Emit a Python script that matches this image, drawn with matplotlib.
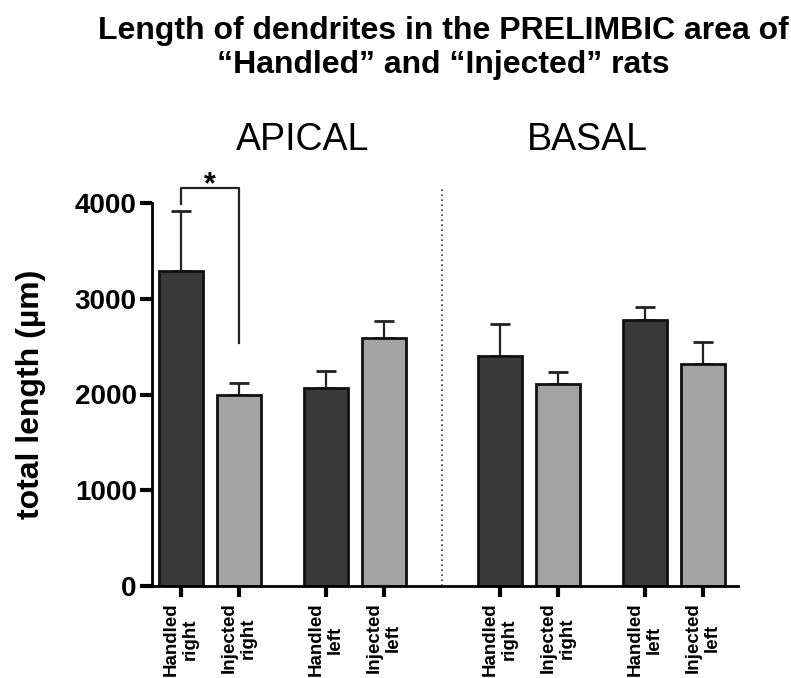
import numpy as np
import matplotlib
matplotlib.use("Agg")
import matplotlib.pyplot as plt

plt.rcParams['font.family'] = ['Liberation Sans', 'DejaVu Sans']

labels = ["Handled\nright", "Injected\nright", "Handled\nleft", "Injected\nleft",
          "Handled\nright", "Injected\nright", "Handled\nleft", "Injected\nleft"]
means = [3290, 2000, 2068, 2590, 2402, 2110, 2778, 2318]
sem = [626, 120, 177, 178, 334, 125, 136, 230]
groups = ["APICAL", "BASAL"]
pos = np.array([0, 1, 2.5, 3.5, 5.5, 6.5, 8, 9])
dark = "#3a3a3a"
light = "#a3a3a3"
colors = [dark, light] * 4

W, H = 791, 678
fig = plt.figure(figsize=(W / 100, H / 100), dpi=100)
ax = fig.add_axes([152 / W, 92 / H, 586 / W, 383 / H])

ax.bar(pos, means, width=0.76, color=colors, edgecolor="#111111", linewidth=2, zorder=2)
ax.errorbar(pos, means, yerr=[np.zeros(len(sem)), sem], fmt="none", ecolor="#222222",
            elinewidth=1.6, capsize=7.5, capthick=2, zorder=1)

ax.set_xlim(-0.5, 9.6)
ax.set_ylim(0, 4000)
ax.set_yticks([0, 1000, 2000, 3000, 4000])
ax.set_xticks(pos)
ax.set_xticklabels(labels, rotation=90, fontsize=13.5, fontweight="bold",
                   va="top", ha="center", multialignment="center", linespacing=1.15)
for t in ax.get_yticklabels():
    t.set_fontsize(20)
    t.set_fontweight("bold")
ax.tick_params(axis="y", length=9, width=3, pad=2)
ax.tick_params(axis="x", length=8, width=3, pad=4)
for s in ["top", "right"]:
    ax.spines[s].set_visible(False)
for s in ["left", "bottom"]:
    ax.spines[s].set_linewidth(2)
ax.set_ylabel("total length (µm)", fontsize=23, fontweight="bold", labelpad=21)

# dotted separator between apical and basal
mid = (pos[3] + pos[4]) / 2
ax.plot([mid, mid], [0, 4150], ls=(0, (1, 2)), color="#333333", lw=1.2, clip_on=False)

# group headings
ax.text((pos[0] + pos[3]) / 2 + 0.35, 4470, groups[0], fontsize=27, ha="center", va="bottom")
ax.text((pos[4] + pos[7]) / 2 - 0.25, 4470, groups[1], fontsize=27, ha="center", va="bottom")

# significance bracket
ax.plot([pos[0], pos[0], pos[1], pos[1]], [3990, 4157, 4157, 2540], color="#222222",
        lw=1.6, clip_on=False)
ax.text((pos[0] + pos[1]) / 2, 4030, "*", fontsize=22, fontweight="bold", ha="center", va="bottom")

fig.text(0.561, 0.977, "Length of dendrites in the PRELIMBIC area of\n\u201cHandled\u201d and \u201cInjected\u201d rats",
         fontsize=23, fontweight="bold", ha="center", va="top", linespacing=1.19)

fig.savefig("out.png", dpi=100)
